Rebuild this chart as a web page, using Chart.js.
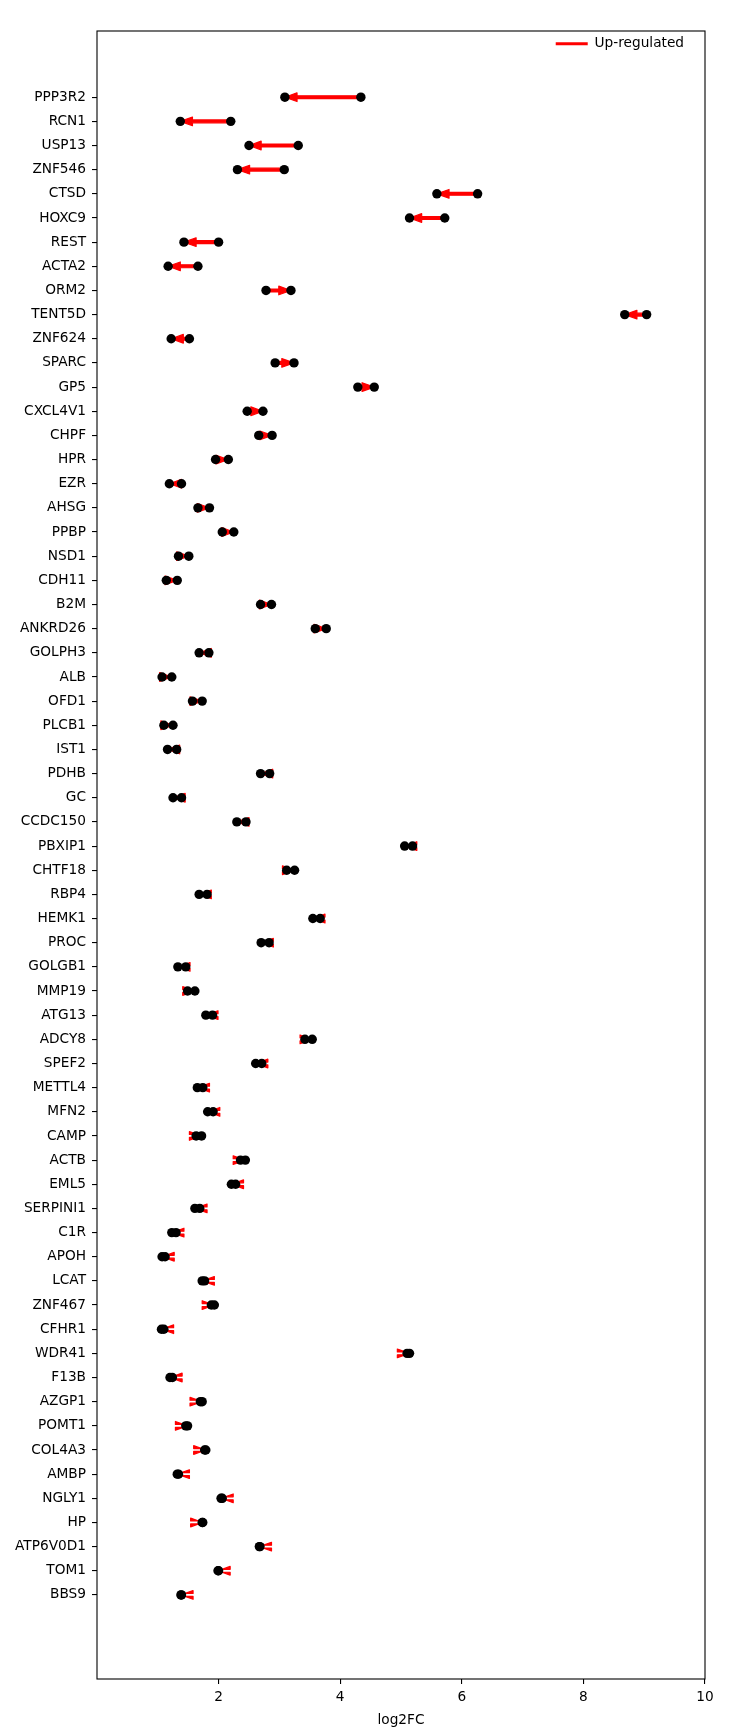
<!DOCTYPE html>
<html>
<head>
<meta charset="utf-8">
<script src="https://cdn.jsdelivr.net/npm/chart.js@4.4.1/dist/chart.umd.min.js"></script>
<style>
  body { margin: 0; background: #fff; }
  canvas { display: block; }
</style>
</head>
<body>
<canvas id="grafico" width="729" height="1732"></canvas>
<script>
// genes, de arriba hacia abajo
const genes = ['PPP3R2', 'RCN1', 'USP13', 'ZNF546', 'CTSD', 'HOXC9', 'REST', 'ACTA2', 'ORM2', 'TENT5D',
  'ZNF624', 'SPARC', 'GP5', 'CXCL4V1', 'CHPF', 'HPR', 'EZR', 'AHSG', 'PPBP', 'NSD1',
  'CDH11', 'B2M', 'ANKRD26', 'GOLPH3', 'ALB', 'OFD1', 'PLCB1', 'IST1', 'PDHB', 'GC',
  'CCDC150', 'PBXIP1', 'CHTF18', 'RBP4', 'HEMK1', 'PROC', 'GOLGB1', 'MMP19', 'ATG13', 'ADCY8',
  'SPEF2', 'METTL4', 'MFN2', 'CAMP', 'ACTB', 'EML5', 'SERPINI1', 'C1R', 'APOH', 'LCAT',
  'ZNF467', 'CFHR1', 'WDR41', 'F13B', 'AZGP1', 'POMT1', 'COL4A3', 'AMBP', 'NGLY1', 'HP',
  'ATP6V0D1', 'TOM1', 'BBS9'];

// log2FC de partida (cola de la flecha)
const startFC = [4.34, 2.20, 3.31, 3.08, 6.26, 5.72, 2.00, 1.66, 2.78, 9.04,
  1.52, 2.93, 4.29, 2.47, 2.66, 1.95, 1.39, 1.66, 2.06, 1.34,
  1.14, 2.69, 3.59, 1.84, 1.07, 1.57, 1.10, 1.31, 2.84, 1.39,
  2.45, 5.19, 3.12, 1.81, 3.67, 2.83, 1.46, 1.49, 1.90, 3.42,
  2.71, 1.74, 1.91, 1.63, 2.36, 2.28, 1.69, 1.30, 1.12, 1.77,
  1.88, 1.10, 5.10, 1.24, 1.70, 1.46, 1.77, 1.34, 2.06, 1.73,
  2.68, 2.00, 1.39];

// log2FC final (punta de la flecha)
const endFC = [3.09, 1.37, 2.50, 2.31, 5.59, 5.14, 1.43, 1.17, 3.19, 8.68,
  1.22, 3.24, 4.56, 2.73, 2.88, 2.16, 1.19, 1.85, 2.25, 1.51,
  1.32, 2.87, 3.77, 1.68, 1.23, 1.73, 1.25, 1.16, 2.69, 1.25,
  2.30, 5.06, 3.25, 1.68, 3.55, 2.70, 1.33, 1.61, 1.79, 3.54,
  2.61, 1.65, 1.82, 1.72, 2.44, 2.21, 1.61, 1.23, 1.07, 1.73,
  1.93, 1.06, 5.14, 1.20, 1.73, 1.49, 1.79, 1.32, 2.04, 1.74,
  2.67, 1.99, 1.38];

const xTicks = [2, 4, 6, 8, 10];

// tamaño de la flecha en unidades de datos (como plt.arrow)
const HEAD_LEN = 0.2;
const HEAD_W = 0.36;
const SHAFT_W = 0.12;

const fuente = { family: 'DejaVu Sans', size: 13.7 };

// Flechas rojas debajo de los puntos, leyenda arriba a la derecha y marco
const flechas = {
  id: 'flechas',
  beforeDatasetsDraw(chart) {
    const { ctx, scales: { x, y } } = chart;
    ctx.save();
    ctx.fillStyle = '#ff0000';
    ctx.strokeStyle = '#ff0000';
    ctx.lineWidth = 1.2;
    ctx.lineJoin = 'round';
    genes.forEach((g, i) => {
      const a = startFC[i];
      const b = endFC[i];
      const d = b >= a ? 1 : -1;
      const len = Math.abs(b - a);
      const forma = [[0, 0], [HEAD_LEN, -HEAD_W / 2], [HEAD_LEN, -SHAFT_W / 2], [len, -SHAFT_W / 2], [len, 0],
        [len, SHAFT_W / 2], [HEAD_LEN, SHAFT_W / 2], [HEAD_LEN, HEAD_W / 2]];
      ctx.beginPath();
      forma.forEach(([s, w], k) => {
        const px = x.getPixelForValue(b - d * s);
        const py = y.getPixelForValue(i + w);
        if (k === 0) ctx.moveTo(px, py); else ctx.lineTo(px, py);
      });
      ctx.closePath();
      ctx.fill();
      ctx.stroke();
    });
    ctx.restore();
  },
  afterLayout(chart) {
    // leyenda dentro del área, esquina superior derecha
    const l = chart.legend;
    const a = chart.chartArea;
    if (l) {
      const w = l.width;
      l.left = a.right - w - 11;
      l.right = l.left + w;
      l.top = a.top - 7;
    }
  },
  afterDraw(chart) {
    const { ctx, chartArea: a } = chart;
    ctx.save();
    ctx.strokeStyle = '#000';
    ctx.lineWidth = 1.1;
    ctx.strokeRect(a.left, a.top, a.right - a.left, a.bottom - a.top);
    ctx.restore();
  }
};

const ctx = document.getElementById('grafico').getContext('2d');

new Chart(ctx, {
  type: 'scatter',
  data: {
    datasets: [
      {
        type: 'line',
        label: 'Up-regulated',
        data: [],
        borderColor: '#ff0000',
        backgroundColor: '#ff0000',
        borderWidth: 0
      },
      {
        label: 'inicio',
        data: genes.map((g, i) => ({ x: startFC[i], y: i })),
        backgroundColor: '#000',
        borderColor: '#000',
        pointRadius: 4.7,
        borderWidth: 0
      },
      {
        label: 'fin',
        data: genes.map((g, i) => ({ x: endFC[i], y: i })),
        backgroundColor: '#000',
        borderColor: '#000',
        pointRadius: 4.7,
        borderWidth: 0
      }
    ]
  },
  options: {
    responsive: false,
    animation: false,
    devicePixelRatio: 1,
    layout: { padding: { left: 0, right: 24, top: 31, bottom: 0 } },
    plugins: {
      tooltip: { enabled: false },
      legend: {
        position: 'chartArea',
        align: 'start',
        labels: {
          filter: item => item.text === 'Up-regulated',
          boxWidth: 32,
          boxHeight: 3,
          padding: 13,
          color: '#000',
          font: fuente
        }
      }
    },
    scales: {
      x: {
        type: 'linear',
        min: 0,
        max: 10,
        afterBuildTicks: scale => {
          scale.ticks = xTicks.map(v => ({ value: v }));
        },
        afterFit: scale => { scale.height = 53; },
        border: { display: false },
        grid: { drawOnChartArea: false, drawTicks: true, tickLength: 5, color: '#000', lineWidth: 1.1 },
        ticks: { color: '#000', font: fuente, padding: 5, maxRotation: 0 },
        title: { display: true, text: 'log2FC', color: '#000', font: fuente, padding: { top: 0, bottom: 3 } }
      },
      y: {
        type: 'linear',
        reverse: true,
        min: -2.74,
        max: 65.48,
        afterBuildTicks: scale => {
          scale.ticks = genes.map((g, i) => ({ value: i }));
        },
        afterFit: scale => { scale.width = 97; },
        border: { display: false },
        grid: { drawOnChartArea: false, drawTicks: true, tickLength: 5, color: '#000', lineWidth: 1.1 },
        ticks: {
          color: '#000',
          font: fuente,
          padding: 6,
          autoSkip: false,
          callback: value => genes[value] ?? ''
        }
      }
    }
  },
  plugins: [flechas]
});
</script>
</body>
</html>
